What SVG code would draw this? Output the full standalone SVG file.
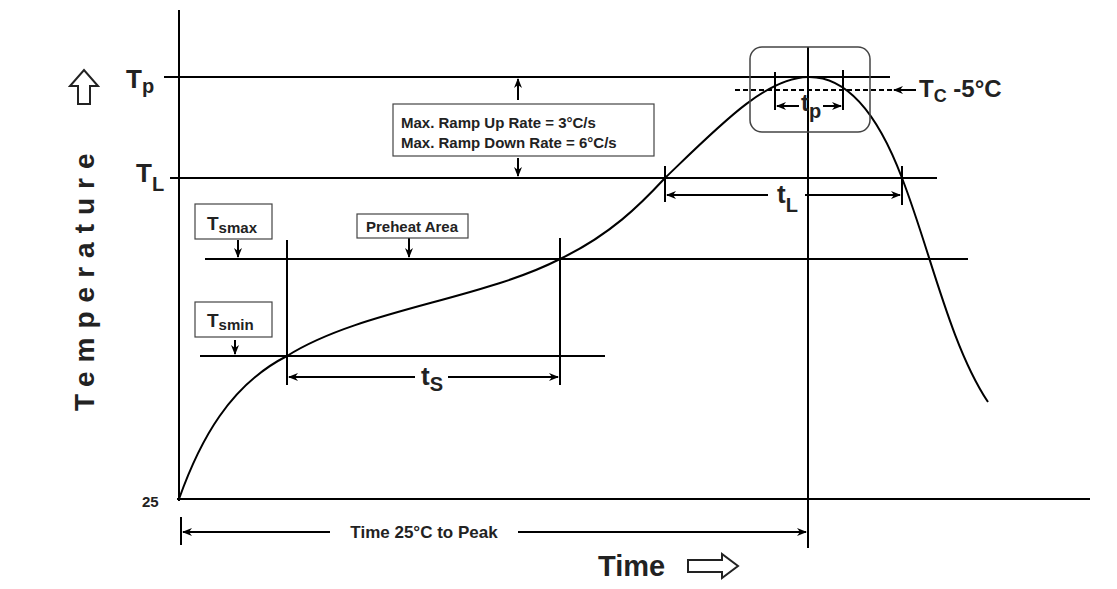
<svg xmlns="http://www.w3.org/2000/svg" width="1117" height="589" viewBox="0 0 1117 589">
<style>
.l{stroke:#000;stroke-width:2;fill:none}
.t{font-family:"Liberation Sans",Arial,sans-serif;font-weight:bold;fill:#222}
.box{fill:#fff;stroke:#444;stroke-width:1.2}
</style>
<defs>
<marker id="a" markerWidth="10" markerHeight="8" refX="9" refY="4" orient="auto" markerUnits="userSpaceOnUse"><path d="M0,0 L10,4 L0,8 L3,4 Z" fill="#000"/></marker>
</defs>
<rect width="1117" height="589" fill="#fff"/>
<g id="connectors">
<line class="l" x1="179" y1="10" x2="179" y2="501" stroke-width="3"/>
<line class="l" x1="177" y1="499" x2="1090" y2="499" stroke-width="3"/>
<line class="l" x1="170" y1="77" x2="890" y2="77"/>
<line class="l" x1="170" y1="178" x2="937" y2="178"/>
<line class="l" x1="205" y1="259" x2="968" y2="259"/>
<line class="l" x1="200" y1="356" x2="605" y2="356"/>
<line class="l" x1="287" y1="240" x2="287" y2="385"/>
<line class="l" x1="560" y1="238" x2="560" y2="385"/>
<path class="l" d="M415,377 H289" marker-end="url(#a)"/>
<path class="l" d="M448,377 H558" marker-end="url(#a)"/>
<path class="l" d="M179,499 C200,440 230,385 287,356 C360,310 480,300 560,259 C610,235 640,205 665,178 C720,125 765,78 808,77 C850,76 880,120 902,178 C930,250 950,345 988,402" stroke-width="2.5"/>
<line class="l" x1="808" y1="47" x2="808" y2="548"/>
<line class="l" x1="775" y1="72" x2="775" y2="110"/>
<line class="l" x1="843" y1="70" x2="843" y2="110"/>
<line x1="735" y1="90" x2="893" y2="90" stroke="#000" stroke-width="2" stroke-dasharray="5,3"/>
<path class="l" d="M916,90 H894" marker-end="url(#a)"/>
<path class="l" d="M799,106 H777" marker-end="url(#a)"/>
<path class="l" d="M823,106 H841" marker-end="url(#a)"/>
<line class="l" x1="665" y1="166" x2="665" y2="202"/>
<line class="l" x1="902" y1="166" x2="902" y2="205"/>
<path class="l" d="M768,195 H667" marker-end="url(#a)"/>
<path class="l" d="M805,195 H900" marker-end="url(#a)"/>
<path class="l" d="M518,100 V79" marker-end="url(#a)"/>
<path class="l" d="M518,158 V176" marker-end="url(#a)"/>
<path class="l" d="M238,240 V257" marker-end="url(#a)"/>
<path class="l" d="M409,238 V257" marker-end="url(#a)"/>
<path class="l" d="M235,340 V354" marker-end="url(#a)"/>
<line class="l" x1="181" y1="517" x2="181" y2="545"/>
<path class="l" d="M330,532 H183" marker-end="url(#a)"/>
<path class="l" d="M518,532 H806" marker-end="url(#a)"/>
<line class="l" x1="164" y1="77" x2="179" y2="77" stroke-width="1"/>
</g>
<g id="peak-box"><rect x="750" y="47" width="120" height="85" rx="12" fill="none" stroke="#444" stroke-width="1.5"/></g>
<g id="labels">
<text class="t" x="126" y="88" font-size="26">T<tspan font-size="20" dy="5">p</tspan></text>
<text class="t" x="136" y="182" font-size="26">T<tspan font-size="20" dy="9">L</tspan></text>
<text class="t" x="142" y="507" font-size="15">25</text>
<text class="t" x="919" y="97" font-size="24">T<tspan font-size="18" dy="5">C</tspan><tspan dy="-5"> -5°C</tspan></text>
<text class="t" x="801" y="111" font-size="24">t<tspan font-size="20" dy="7">p</tspan></text>
<text class="t" x="777" y="203" font-size="26">t<tspan font-size="20" dy="9">L</tspan></text>
<text class="t" x="421" y="385" font-size="26">t<tspan font-size="20" dy="6">S</tspan></text>
<text class="t" x="424" y="538" font-size="17" text-anchor="middle">Time 25°C to Peak</text>
<text class="t" x="598" y="576" font-size="29">Time</text>
<polygon points="688,560 722,560 722,554 738,566 722,578 722,572 688,572" fill="none" stroke="#222" stroke-width="2"/>
<text class="t" transform="translate(94,411) rotate(-90)" font-size="28" letter-spacing="9">Temperature</text>
<polygon points="78,104 78,86 70,86 84,70 98,86 90,86 90,104" fill="none" stroke="#222" stroke-width="2"/>
</g>
<g id="ramp-box"><rect class="box" x="393" y="104" width="261" height="52"/>
<text class="t" x="401" y="128" font-size="15">Max. Ramp Up Rate = 3°C/s</text>
<text class="t" x="401" y="148" font-size="15">Max. Ramp Down Rate = 6°C/s</text></g>
<g id="tsmax"><rect class="box" x="195" y="204" width="77" height="35"/>
<text class="t" x="207" y="230" font-size="19">T<tspan font-size="15" dy="3">smax</tspan></text></g>
<g id="preheat"><rect class="box" x="357" y="214" width="111" height="24"/>
<text class="t" x="412" y="232" font-size="15" text-anchor="middle">Preheat Area</text></g>
<g id="tsmin"><rect class="box" x="195" y="302" width="77" height="35"/>
<text class="t" x="207" y="327" font-size="19">T<tspan font-size="15" dy="3">smin</tspan></text></g>
</svg>
